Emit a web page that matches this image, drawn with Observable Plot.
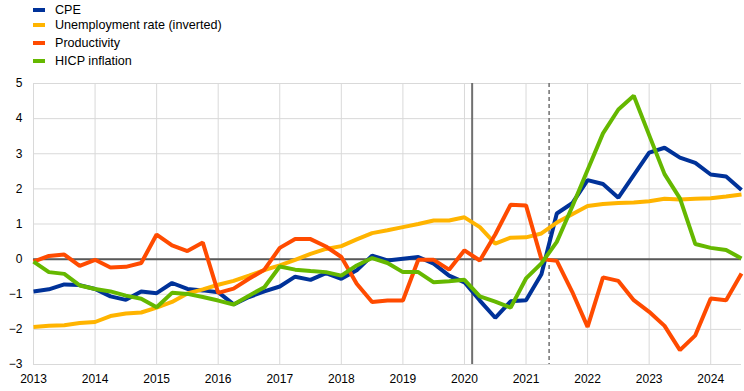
<!DOCTYPE html>
<html><head><meta charset="utf-8">
<script src="https://cdn.jsdelivr.net/npm/d3@7"></script>
<script src="https://cdn.jsdelivr.net/npm/@observablehq/plot@0.6"></script>
<style>
body{margin:0;background:#fff;font-family:"Liberation Sans",Arial,sans-serif;}
#legend{height:70px;position:relative;font-size:12.6px;color:#000;}
.item{position:absolute;left:33px;height:14px;display:flex;align-items:center;white-space:nowrap;}
.sw{width:12px;height:4px;margin-right:10px;}
</style></head><body>
<div id="legend"></div><div id="chart"></div>
<script>
const seriesNames = ["CPE", "Unemployment rate (inverted)", "Productivity", "HICP inflation"];
const seriesColors = ["#003299", "#FFB400", "#FF4B00", "#65B800"];
const startYear = 2013;
const yearTicks = [2013,2014,2015,2016,2017,2018,2019,2020,2021,2022,2023,2024];
const yTicks = [-3,-2,-1,0,1,2,3,4,5];
const solidLine = [2020.125];
const dashedLine = [2021.375];

const cpe = [-0.92,-0.86,-0.72,-0.74,-0.85,-1.06,-1.16,-0.92,-0.97,-0.68,-0.85,-0.89,-0.94,-1.29,-1.08,-0.92,-0.78,-0.5,-0.59,-0.4,-0.56,-0.32,0.1,-0.04,0.01,0.06,-0.13,-0.47,-0.66,-1.18,-1.67,-1.2,-1.17,-0.43,1.3,1.59,2.25,2.14,1.75,2.39,3.03,3.17,2.89,2.74,2.41,2.35,1.97];
const unemp = [-1.93,-1.9,-1.88,-1.82,-1.79,-1.62,-1.55,-1.52,-1.38,-1.22,-0.98,-0.86,-0.73,-0.62,-0.47,-0.31,-0.18,-0.02,0.15,0.29,0.37,0.56,0.74,0.82,0.91,1.0,1.1,1.1,1.19,0.91,0.44,0.61,0.62,0.73,1.04,1.28,1.51,1.57,1.6,1.61,1.65,1.72,1.7,1.72,1.73,1.78,1.84];
const productivity = [-0.07,0.09,0.13,-0.19,-0.02,-0.24,-0.22,-0.11,0.70,0.39,0.23,0.47,-0.96,-0.84,-0.56,-0.3,0.32,0.57,0.57,0.36,0.06,-0.7,-1.22,-1.18,-1.18,-0.02,-0.02,-0.3,0.25,-0.04,0.7,1.55,1.53,0.0,-0.05,-0.93,-1.93,-0.52,-0.62,-1.17,-1.5,-1.9,-2.59,-2.17,-1.12,-1.17,-0.41];
const hicp = [-0.07,-0.37,-0.42,-0.75,-0.85,-0.92,-1.04,-1.13,-1.37,-0.96,-0.99,-1.08,-1.18,-1.29,-1.04,-0.8,-0.21,-0.3,-0.34,-0.37,-0.47,-0.18,0.03,-0.11,-0.37,-0.37,-0.66,-0.63,-0.59,-1.06,-1.21,-1.38,-0.55,-0.12,0.49,1.49,2.54,3.58,4.26,4.65,3.53,2.42,1.73,0.43,0.32,0.26,0.02];

const allSeries = [cpe, unemp, productivity, hicp];
const rows = [];
allSeries.forEach((vals, s) => vals.forEach((v, i) => rows.push({t: startYear + i / 4, v, s: seriesNames[s]})));

// legend
const leg = document.getElementById("legend");
const tops = [3, 18, 36, 54];
seriesNames.forEach((n, i) => {
  const d = document.createElement("div");
  d.className = "item"; d.style.top = tops[i] + "px";
  d.innerHTML = `<span class="sw" style="background:${seriesColors[i]}"></span><span>${n}</span>`;
  leg.appendChild(d);
});

const chart = Plot.plot({
  width: 744, height: 321,
  marginLeft: 33, marginRight: 3, marginTop: 13, marginBottom: 27,
  style: {fontFamily: '"Liberation Sans", Arial, sans-serif', fontSize: "12px", color: "#000", background: "#fff"},
  x: {domain: [2013, 2024.5], ticks: yearTicks, tickFormat: d => String(d), tickSize: 0, tickPadding: 10, label: null},
  y: {domain: [-3, 5], ticks: yTicks, tickSize: 0, tickPadding: 11, label: null},
  color: {domain: seriesNames, range: seriesColors},
  marks: [
    Plot.gridX(yearTicks, {stroke: "#d9d9d9", strokeOpacity: 1, strokeWidth: 1}),
    Plot.gridY(yTicks, {stroke: "#d9d9d9", strokeOpacity: 1, strokeWidth: 1}),
    Plot.ruleY([0], {stroke: "#595959", strokeWidth: 2}),
    Plot.ruleX(solidLine, {stroke: "#707070", strokeWidth: 2}),
    Plot.ruleX(dashedLine, {stroke: "#707070", strokeWidth: 1.5, strokeDasharray: "4,3"}),
    Plot.lineY(rows, {x: "t", y: "v", z: "s", stroke: "s", strokeWidth: 4, strokeLinejoin: "miter", strokeLinecap: "butt"})
  ]
});
document.getElementById("chart").appendChild(chart);
</script>
</body></html>
